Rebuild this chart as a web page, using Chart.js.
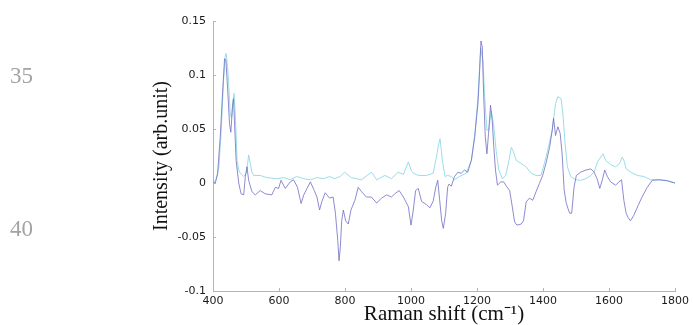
<!DOCTYPE html>
<html>
<head>
<meta charset="utf-8">
<script src="https://cdn.jsdelivr.net/npm/chart.js@4.4.0/dist/chart.umd.min.js"></script>
<style>
  body { margin: 0; background: #fff; }
  #wrap { position: relative; width: 693px; height: 325px; }
  .side { position: absolute; left: 10px; font: 23px "Liberation Serif", serif; color: #a3a3a3; line-height: 1; }
</style>
</head>
<body>
<div id="wrap">
  <canvas id="ramanChart" width="693" height="325"></canvas>
  <div class="side" style="top:64px">35</div>
  <div class="side" style="top:217px">40</div>
</div>
<script>
// Raman shift (cm-1) and intensity of the darker spectrum
const darkShift = [400, 407, 414, 422, 430, 435, 439, 444, 450, 454, 459, 462, 465, 470, 478, 485, 493, 498, 503, 508,
  518, 528, 543, 558, 578, 589, 599, 606, 619, 634, 644, 656, 667, 675, 685, 695, 707, 715, 723, 730,
  740, 753, 764, 771, 778, 782, 786, 790, 795, 802, 810, 818, 830, 840, 850, 865, 880, 896, 911, 926,
  941, 951, 964, 977, 992, 1000, 1007, 1014, 1022, 1032, 1047, 1057, 1067, 1075, 1081, 1086, 1093, 1098, 1105, 1111,
  1115, 1122, 1132, 1142, 1152, 1162, 1172, 1183, 1193, 1203, 1208, 1212, 1216, 1220, 1225, 1230, 1235, 1241, 1246, 1251,
  1256, 1262, 1272, 1281, 1289, 1299, 1307, 1314, 1321, 1334, 1341, 1349, 1359, 1369, 1379, 1389, 1399, 1410, 1420, 1428,
  1432, 1438, 1445, 1452, 1458, 1464, 1470, 1476, 1481, 1487, 1494, 1501, 1514, 1530, 1545, 1555, 1565, 1572, 1580, 1587,
  1595, 1605, 1620, 1630, 1638, 1645, 1652, 1658, 1665, 1675, 1688, 1700, 1716, 1731, 1751, 1777, 1800];
const darkIntensity = [0.001, 0.000, 0.009, 0.043, 0.089, 0.115, 0.114, 0.089, 0.055, 0.047, 0.070, 0.078, 0.058, 0.021, 0.000, -0.010, -0.011, 0.006, 0.015, 0.0025,
  -0.008, -0.011, -0.007, -0.010, -0.011, -0.004, -0.005, 0.0025, -0.005, 0.001, 0.003, -0.004, -0.019, -0.011, -0.005, 0.001, -0.007, -0.013, -0.025, -0.017,
  -0.009, -0.014, -0.013, -0.028, -0.053, -0.072, -0.059, -0.035, -0.025, -0.035, -0.038, -0.025, -0.016, -0.004, -0.008, -0.013, -0.013, -0.0185, -0.014, -0.011,
  -0.013, -0.010, -0.007, -0.013, -0.022, -0.039, -0.025, -0.007, -0.005, -0.017, -0.020, -0.023, -0.017, -0.004, 0.0025, -0.013, -0.035, -0.042, -0.028, -0.004,
  -0.001, -0.003, 0.006, 0.010, 0.009, 0.012, 0.010, 0.021, 0.043, 0.074, 0.104, 0.1315, 0.126, 0.083, 0.043, 0.027, 0.046, 0.072, 0.058, 0.033,
  0.012, -0.002, 0.001, 0.001, -0.003, -0.007, -0.022, -0.036, -0.039, -0.038, -0.035, -0.0175, -0.014, -0.016, -0.008, -0.0005, 0.007, 0.0195, 0.033, 0.049,
  0.060, 0.044, 0.052, 0.046, 0.027, -0.006, -0.018, -0.024, -0.028, -0.028, -0.004, 0.007, 0.010, 0.012, 0.013, 0.010, 0.003, -0.005, 0.003, 0.012,
  0.006, 0.001, -0.002, 0.001, 0.003, -0.016, -0.028, -0.032, -0.035, -0.030, -0.021, -0.013, -0.004, 0.0025, 0.003, 0.002, 0.000];

// lighter (cyan) spectrum
const lightShift = [400, 410, 418, 425, 432, 437, 440, 444, 447, 452, 456, 460, 464, 468, 473, 478, 483, 493, 501, 505,
  508, 513, 518, 523, 543, 563, 593, 614, 634, 654, 675, 695, 715, 735, 753, 769, 785, 799, 819, 850,
  880, 896, 921, 941, 961, 977, 992, 1000, 1007, 1022, 1047, 1067, 1077, 1083, 1088, 1092, 1095, 1103, 1111, 1122,
  1132, 1147, 1167, 1183, 1193, 1203, 1211, 1218, 1224, 1230, 1236, 1243, 1250, 1258, 1266, 1277, 1287, 1297, 1304, 1309,
  1319, 1334, 1349, 1364, 1379, 1394, 1404, 1414, 1428, 1438, 1445, 1455, 1460, 1467, 1474, 1484, 1499, 1514, 1530, 1545,
  1555, 1565, 1575, 1582, 1590, 1605, 1620, 1632, 1640, 1645, 1652, 1666, 1686, 1706, 1726, 1751, 1772, 1800];
const lightIntensity = [0.001, 0.003, 0.015, 0.050, 0.095, 0.117, 0.120, 0.108, 0.095, 0.065, 0.060, 0.075, 0.083, 0.060, 0.021, 0.012, 0.009, 0.006, 0.009, 0.018,
  0.026, 0.018, 0.010, 0.007, 0.007, 0.005, 0.004, 0.005, 0.003, 0.006, 0.004, 0.003, 0.005, 0.004, 0.006, 0.004, 0.006, 0.010, 0.005, 0.003,
  0.010, 0.003, 0.007, 0.004, 0.010, 0.008, 0.0195, 0.012, 0.009, 0.007, 0.007, 0.009, 0.024, 0.035, 0.041, 0.030, 0.021, 0.006, 0.007, 0.006,
  0.003, 0.006, 0.009, 0.021, 0.043, 0.080, 0.125, 0.113, 0.076, 0.049, 0.049, 0.067, 0.055, 0.030, 0.012, 0.004, 0.007, 0.021, 0.033, 0.030,
  0.021, 0.018, 0.015, 0.009, 0.007, 0.007, 0.018, 0.030, 0.049, 0.0735, 0.080, 0.078, 0.065, 0.0365, 0.015, 0.006, 0.003, 0.0025, 0.004, 0.007,
  0.010, 0.0195, 0.024, 0.027, 0.021, 0.017, 0.015, 0.018, 0.024, 0.021, 0.013, 0.010, 0.007, 0.006, 0.003, 0.003, 0.0025, 0.000];

const xTicks = [400, 600, 800, 1000, 1200, 1400, 1600, 1800];
const xTickLabels = ['400', '600', '800', '1000', '1200', '1400', '1600', '1800'];
const yTicks = [-0.1, -0.05, 0, 0.05, 0.1, 0.15];
const yTickLabels = ['-0.1', '-0.05', '0', '0.05', '0.1', '0.15'];

const toPoints = (xs, ys) => xs.map((x, i) => ({ x: x, y: ys[i] }));

// small inward tick marks like the original plot
const innerTicks = {
  id: 'innerTicks',
  afterDraw(chart) {
    const { ctx, chartArea, scales } = chart;
    ctx.save();
    ctx.strokeStyle = '#b5b5b5';
    ctx.lineWidth = 1;
    ctx.beginPath();
    xTicks.forEach(v => {
      const px = Math.round(scales.x.getPixelForValue(v)) + 0.5;
      ctx.moveTo(px, chartArea.bottom);
      ctx.lineTo(px, chartArea.bottom - 3);
    });
    yTicks.forEach(v => {
      const py = Math.round(scales.y.getPixelForValue(v)) + 0.5;
      ctx.moveTo(chartArea.left, py);
      ctx.lineTo(chartArea.left + 3, py);
    });
    ctx.stroke();
    ctx.restore();
  }
};

new Chart(document.getElementById('ramanChart'), {
  type: 'line',
  data: {
    datasets: [
      {
        label: 'dark',
        data: toPoints(darkShift, darkIntensity),
        borderColor: 'rgba(112,110,195,0.8)',
        borderWidth: 1,
        pointRadius: 0,
        tension: 0
      },
      {
        label: 'light',
        data: toPoints(lightShift, lightIntensity),
        borderColor: 'rgba(150,218,230,0.95)',
        borderWidth: 1,
        pointRadius: 0,
        tension: 0
      }
    ]
  },
  options: {
    responsive: false,
    animation: false,
    layout: { padding: { left: 146, right: 18, top: 21, bottom: 0 } },
    plugins: { legend: { display: false }, tooltip: { enabled: false } },
    scales: {
      x: {
        type: 'linear',
        min: 400,
        max: 1800,
        afterBuildTicks: s => { s.ticks = xTicks.map(v => ({ value: v })); },
        afterFit: s => { s.height = 34; },
        grid: { display: false, drawTicks: false },
        border: { display: true, color: '#b5b5b5', width: 1 },
        ticks: {
          padding: 4,
          color: '#1a1a1a',
          font: { family: 'DejaVu Sans', size: 11 },
          maxRotation: 0,
          callback: (v, i) => xTickLabels[i]
        },
        title: {
          display: true,
          text: 'Raman shift (cm⁻¹)',
          color: '#111',
          font: { family: 'Liberation Serif', size: 21, lineHeight: 1 },
          padding: { top: 0, bottom: 0 }
        }
      },
      y: {
        min: -0.1,
        max: 0.15,
        afterBuildTicks: s => { s.ticks = yTicks.map(v => ({ value: v })); },
        afterFit: s => { s.width = 67; },
        grid: { display: false, drawTicks: false },
        border: { display: true, color: '#b5b5b5', width: 1 },
        ticks: {
          padding: 7,
          color: '#1a1a1a',
          font: { family: 'DejaVu Sans', size: 11 },
          callback: (v, i) => yTickLabels[i]
        },
        title: {
          display: true,
          text: 'Intensity (arb.unit)',
          color: '#111',
          font: { family: 'Liberation Serif', size: 20 },
          padding: { top: 4, bottom: 0 }
        }
      }
    }
  },
  plugins: [innerTicks]
});
</script>
</body>
</html>
